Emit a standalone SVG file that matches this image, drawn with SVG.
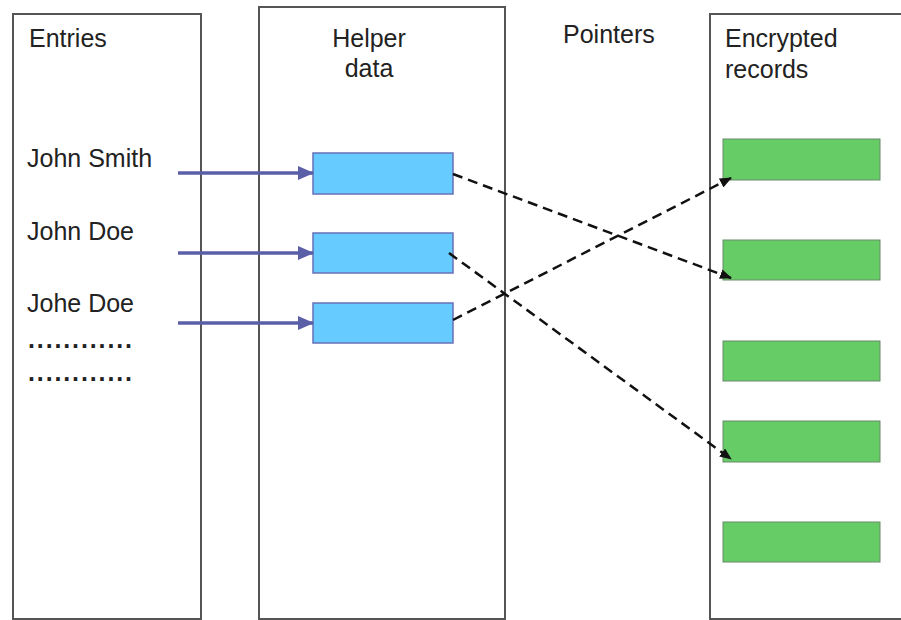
<svg xmlns="http://www.w3.org/2000/svg" width="901" height="620" viewBox="0 0 901 620">
<defs>
<marker id="blueHead" viewBox="0 0 16 16" markerWidth="16" markerHeight="16" refX="15" refY="8" orient="auto" markerUnits="userSpaceOnUse">
<path d="M0,1 L16,8 L0,15 z" fill="#5a5fa8"/>
</marker>
<marker id="blackHead" viewBox="0 0 12 10" markerWidth="12" markerHeight="10" refX="11" refY="5" orient="auto" markerUnits="userSpaceOnUse">
<path d="M0,0 L12,5 L0,10 z" fill="#111"/>
</marker>
</defs>
<style>
.col{fill:#fff;stroke:#555;stroke-width:2}
.lbl{font-family:"Liberation Sans",Arial,sans-serif;font-size:25px;fill:#222}
.blue{fill:#66ccff;stroke:#6870b8;stroke-width:1.5}
.green{fill:#66cc66;stroke:#6a8a6a;stroke-width:1}
.ptr{stroke:#5a5fa8;stroke-width:3.5;fill:none}
.dash{stroke:#111;stroke-width:2.5;fill:none;stroke-dasharray:10 6}
</style>
<rect width="901" height="620" fill="#fff"/>
<g id="entries">
<rect class="col" x="13" y="14" width="188" height="605"/>
<text class="lbl" x="29" y="47">Entries</text>
<text class="lbl" x="27" y="167">John Smith</text>
<text class="lbl" x="27" y="240">John Doe</text>
<text class="lbl" x="27" y="312">Johe Doe</text>
<text class="lbl" x="28" y="348" textLength="104" lengthAdjust="spacing" font-weight="bold">............</text>
<text class="lbl" x="28" y="381" textLength="104" lengthAdjust="spacing" font-weight="bold">............</text>
</g>
<g id="helper">
<rect class="col" x="259" y="7" width="246" height="612"/>
<text class="lbl" x="369" y="47" text-anchor="middle">Helper</text>
<text class="lbl" x="369" y="77" text-anchor="middle">data</text>
<rect class="blue" x="313" y="153" width="140" height="41"/>
<rect class="blue" x="313" y="233" width="140" height="40"/>
<rect class="blue" x="313" y="303" width="140" height="40"/>
</g>
<g id="pointers">
<text class="lbl" x="563" y="43">Pointers</text>
</g>
<g id="records">
<rect class="col" x="710" y="14" width="200" height="605"/>
<text class="lbl" x="725" y="47">Encrypted</text>
<text class="lbl" x="725" y="78">records</text>
<rect class="green" x="723" y="139" width="157" height="41"/>
<rect class="green" x="723" y="240" width="157" height="40"/>
<rect class="green" x="723" y="341" width="157" height="40"/>
<rect class="green" x="723" y="421" width="157" height="41"/>
<rect class="green" x="723" y="522" width="157" height="40"/>
</g>
<g id="connectors">
<line class="ptr" x1="178" y1="173" x2="313" y2="173" marker-end="url(#blueHead)"/>
<line class="ptr" x1="178" y1="253" x2="313" y2="253" marker-end="url(#blueHead)"/>
<line class="ptr" x1="178" y1="323" x2="313" y2="323" marker-end="url(#blueHead)"/>
<line class="dash" x1="453" y1="174" x2="731" y2="278" marker-end="url(#blackHead)"/>
<line class="dash" x1="449" y1="253" x2="731" y2="459" marker-end="url(#blackHead)"/>
<line class="dash" x1="453" y1="320" x2="731" y2="178" marker-end="url(#blackHead)"/>
</g>
</svg>
